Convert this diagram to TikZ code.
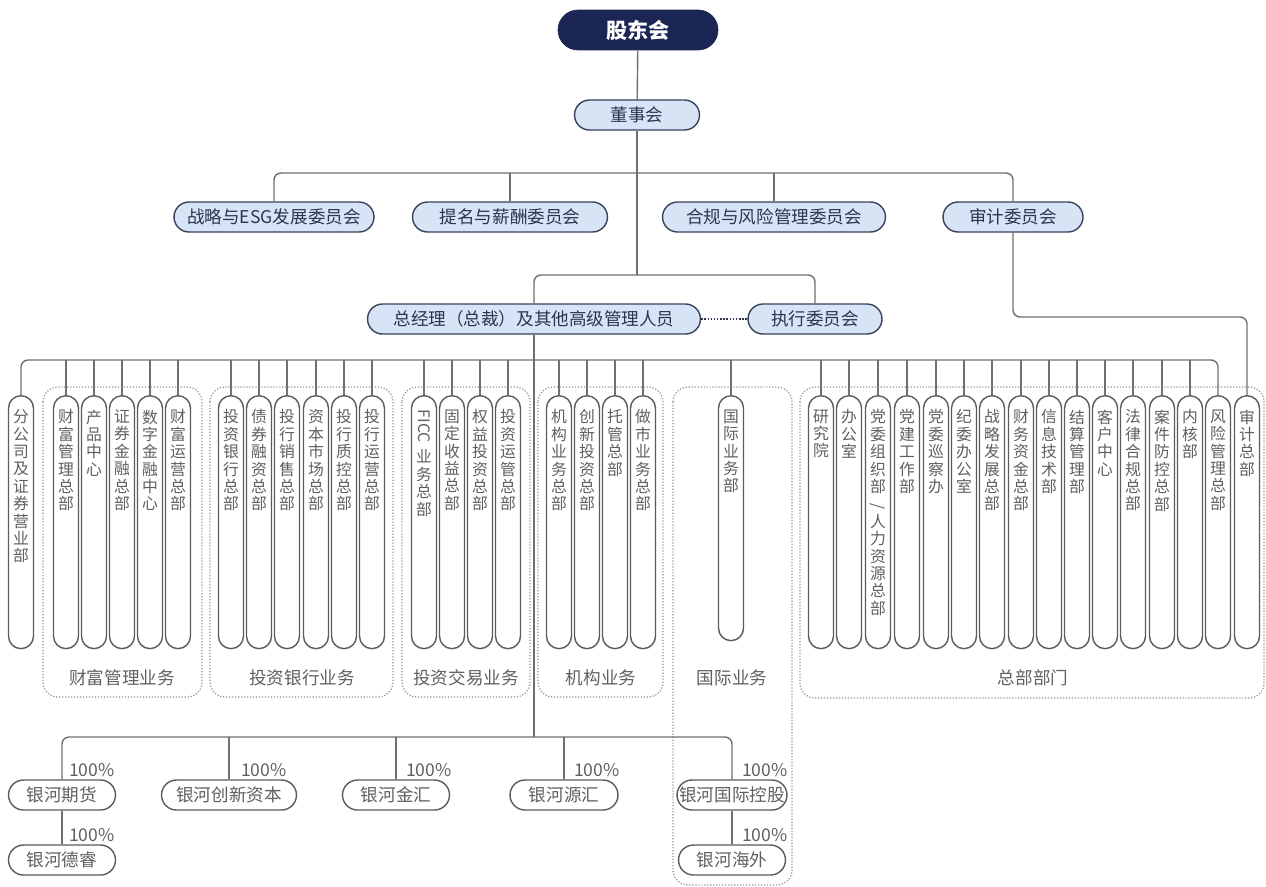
\documentclass[tikz,border=0pt]{standalone}
\usepackage{fontspec}
\setmainfont{Noto Sans CJK SC}
\usetikzlibrary{positioning}
\definecolor{navy}{RGB}{28,38,84}
\definecolor{paleblue}{RGB}{214,228,246}
\definecolor{rimblue}{RGB}{58,66,92}
\definecolor{inkblue}{RGB}{44,52,78}
\definecolor{linegray}{RGB}{112,112,112}
\definecolor{rim}{RGB}{92,92,92}
\definecolor{ink}{RGB}{96,96,96}
\definecolor{dots}{RGB}{150,150,150}
\tikzstyle{holders} = [rectangle, rounded corners=0.4cm, minimum width=3.2cm, minimum height=0.8cm, text centered, draw=navy, fill=navy, text=white, font=\fontsize{12}{14}\selectfont\bfseries]
\tikzstyle{board} = [rectangle, rounded corners=0.3cm, minimum height=0.6cm, inner xsep=2pt, text centered, draw=rimblue, line width=0.8pt, fill=paleblue, text=inkblue, font=\fontsize{10}{12}\selectfont]
\tikzstyle{dept} = [rectangle, rounded corners=0.25cm, minimum width=0.5cm, inner xsep=0pt, inner ysep=0.28cm, anchor=north, draw=rim, line width=0.8pt, fill=white, text=ink, font=\fontsize{9}{9.9}\selectfont]
\tikzstyle{sub} = [rectangle, rounded corners=0.3cm, minimum width=2.14cm, minimum height=0.6cm, inner xsep=1pt, text centered, draw=rim, line width=0.8pt, fill=white, text=ink, font=\fontsize{10}{12}\selectfont]
\tikzstyle{pct} = [inner sep=1pt, text=ink, font=\fontsize{10}{12}\selectfont]
\tikzstyle{grouplabel} = [text=ink, font=\fontsize{10}{12}\selectfont]
\tikzstyle{groupbox} = [draw=dots, densely dotted, line width=0.7pt, rounded corners=0.3cm]
\tikzstyle{wire} = [draw=linegray, line width=0.8pt, rounded corners=0.14cm]
\newcommand{\vcol}[2][4.5cm]{\parbox[c][#1][t]{0.5cm}{\centering #2}}

\begin{document}
\begin{tikzpicture}[x=0.02cm, y=-0.02cm]
\fill[white] (0,0) rectangle (1266,886);
\useasboundingbox (0,0) rectangle (1266,886);
%
% business groups
\draw [groupbox] (43,387) rectangle (202,697);
\draw [groupbox] (210,387) rectangle (393,697);
\draw [groupbox] (402,387) rectangle (530,697);
\draw [groupbox] (538,387) rectangle (663,697);
\draw [groupbox] (673,387) rectangle (792,885);
\draw [groupbox] (800,387) rectangle (1264,698);
%
\node (gdh) [holders] at (638,30) {股东会};
\node (dsh) [board, minimum width=2.5cm] at (637,115) {董事会};
\node (zl) [board, minimum width=4cm] at (274,217) {战略与ESG发展委员会};
\node (tm) [board, minimum width=3.9cm] at (510,217) {提名与薪酬委员会};
\node (hg) [board, minimum width=4.46cm] at (774,217) {合规与风险管理委员会};
\node (sj) [board, minimum width=2.8cm] at (1013,217) {审计委员会};
\node (zjl) [board, minimum width=6.66cm] at (534,319) {总经理（总裁）及其他高级管理人员};
\node (zx) [board, minimum width=2.68cm] at (815,319) {执行委员会};
%
\node (fgs) [dept] at (21,395) {\vcol{分\\公\\司\\及\\证\\券\\营\\业\\部}};
\node (cf) [dept] at (66,395) {\vcol{财\\富\\管\\理\\总\\部}};
\node (cp) [dept] at (94,395) {\vcol{产\\品\\中\\心}};
\node (zq) [dept] at (122,395) {\vcol{证\\券\\金\\融\\总\\部}};
\node (sz) [dept] at (150,395) {\vcol{数\\字\\金\\融\\中\\心}};
\node (cy) [dept] at (178,395) {\vcol{财\\富\\运\\营\\总\\部}};
\node (tz) [dept] at (231,395) {\vcol{投\\资\\银\\行\\总\\部}};
\node (zj) [dept] at (259,395) {\vcol{债\\券\\融\\资\\总\\部}};
\node (tx) [dept] at (287,395) {\vcol{投\\行\\销\\售\\总\\部}};
\node (zb) [dept] at (316,395) {\vcol{资\\本\\市\\场\\总\\部}};
\node (tk) [dept] at (344,395) {\vcol{投\\行\\质\\控\\总\\部}};
\node (ty) [dept] at (372,395) {\vcol{投\\行\\运\\营\\总\\部}};
\node (ficc) [dept] at (424,395) {\vcol{\rotatebox{-90}{FICC}\\[3pt]业\\务\\总\\部}};
\node (gd) [dept] at (452,395) {\vcol{固\\定\\收\\益\\总\\部}};
\node (qy) [dept] at (480,395) {\vcol{权\\益\\投\\资\\总\\部}};
\node (tyg) [dept] at (508,395) {\vcol{投\\资\\运\\管\\总\\部}};
\node (jg) [dept] at (559,395) {\vcol{机\\构\\业\\务\\总\\部}};
\node (cxt) [dept] at (587,395) {\vcol{创\\新\\投\\资\\总\\部}};
\node (tg) [dept] at (615,395) {\vcol{托\\管\\总\\部}};
\node (zs) [dept] at (643,395) {\vcol{做\\市\\业\\务\\总\\部}};
\node (gj) [dept] at (731,395) {\vcol[4.34cm]{国\\际\\业\\务\\部}};
\node (yjy) [dept] at (821,395) {\vcol{研\\究\\院}};
\node (bgs) [dept] at (849,395) {\vcol{办\\公\\室}};
\node (zzb) [dept] at (878,395) {\vcol{党\\委\\组\\织\\部\\\rotatebox{90}{/}\\人\\力\\资\\源\\总\\部}};
\node (djb) [dept] at (907,395) {\vcol{党\\建\\工\\作\\部}};
\node (xcb) [dept] at (936,395) {\vcol{党\\委\\巡\\察\\办}};
\node (jwb) [dept] at (964,395) {\vcol{纪\\委\\办\\公\\室}};
\node (zlb) [dept] at (992,395) {\vcol{战\\略\\发\\展\\总\\部}};
\node (cwb) [dept] at (1021,395) {\vcol{财\\务\\资\\金\\总\\部}};
\node (xxb) [dept] at (1049,395) {\vcol{信\\息\\技\\术\\部}};
\node (jsb) [dept] at (1077,395) {\vcol{结\\算\\管\\理\\部}};
\node (khzx) [dept] at (1105,395) {\vcol{客\\户\\中\\心}};
\node (flb) [dept] at (1133,395) {\vcol{法\\律\\合\\规\\总\\部}};
\node (ajb) [dept] at (1162,395) {\vcol{案\\件\\防\\控\\总\\部}};
\node (nhb) [dept] at (1190,395) {\vcol{内\\核\\部}};
\node (fxb) [dept] at (1218,395) {\vcol{风\\险\\管\\理\\总\\部}};
\node (sjzb) [dept] at (1247,395) {\vcol{审\\计\\总\\部}};
%
\node (wealth) [grouplabel] at (122,678) {财富管理业务};
\node (ibank) [grouplabel] at (302,678) {投资银行业务};
\node (trade) [grouplabel] at (466,678) {投资交易业务};
\node (inst) [grouplabel] at (601,678) {机构业务};
\node (intl) [grouplabel] at (732,678) {国际业务};
\node (hq) [grouplabel] at (1033,678) {总部部门};
%
\node (qh) [sub] at (62,795) {银河期货};
\node (cx) [sub, minimum width=2.7cm] at (229,795) {银河创新资本};
\node (jh) [sub] at (396,795) {银河金汇};
\node (yh) [sub, minimum width=2.16cm] at (564,795) {银河源汇};
\node (gk) [sub, minimum width=2.2cm] at (732,795) {银河国际控股};
\node (dr) [sub] at (62,860) {银河德睿};
\node (hw) [sub] at (732,860) {银河海外};
\node (p1) [pct, above right=0pt and 0.1cm of qh.north] {100\%};
\node (p2) [pct, above right=0pt and 0.2cm of cx.north] {100\%};
\node (p3) [pct, above right=0pt and 0.16cm of jh.north] {100\%};
\node (p4) [pct, above right=0pt and 0.16cm of yh.north] {100\%};
\node (p5) [pct, above right=0pt and 0.16cm of gk.north] {100\%};
\node (p6) [pct, above right=0pt and 0.1cm of dr.north] {100\%};
\node (p7) [pct, above right=0pt and 0.16cm of hw.north] {100\%};
%
\coordinate (bus1) at (638,173);
\coordinate (bus2) at (638,275);
\coordinate (aud) at (1247,317);
\coordinate (bus3) at (534,360);
\coordinate (bus4) at (534,737);
\draw [wire] (gdh) -- (dsh);
\draw [wire] (dsh.south) -- (dsh.south |- bus2);
\draw [wire] (zl.north) |- (sj.north |- bus1) -- (sj.north);
\draw [wire] (tm.north) -- (tm.north |- bus1);
\draw [wire] (hg.north) -- (hg.north |- bus1);
\draw [wire] (zjl.north) |- (zx.north |- bus2) -- (zx.north);
\draw [wire, draw=inkblue, densely dotted, line width=1pt] (zjl) -- (zx);
\draw [wire] (sj.south) |- (sjzb.north |- aud) -- (sjzb.north);
\draw [wire] (fgs.north) |- (fxb.north |- bus3) -- (fxb.north);
\foreach \d in {cf,cp,zq,sz,cy,tz,zj,tx,zb,tk,ty,ficc,gd,qy,tyg,jg,cxt,tg,zs,gj,yjy,bgs,zzb,djb,xcb,jwb,zlb,cwb,xxb,jsb,khzx,flb,ajb,nhb}
  \draw [wire] (\d.north) -- (\d.north |- bus3);
\draw [wire] (zjl.south) -- (zjl.south |- bus4);
\draw [wire] (qh.north) |- (gk.north |- bus4) -- (gk.north);
\foreach \s in {cx,jh,yh}
  \draw [wire] (\s.north) -- (\s.north |- bus4);
\draw [wire] (qh) -- (dr);
\draw [wire] (gk) -- (hw);
%
\end{tikzpicture}
\end{document}
